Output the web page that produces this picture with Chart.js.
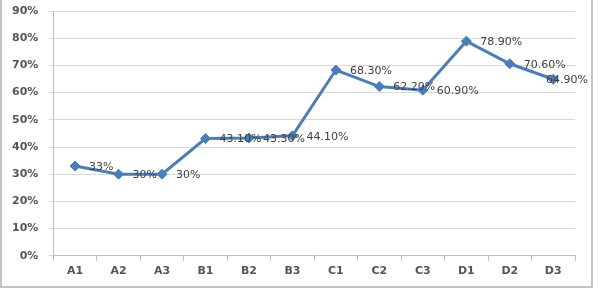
<!DOCTYPE html>
<html>
<head>
<meta charset="utf-8">
<script src="https://cdn.jsdelivr.net/npm/chart.js@4/dist/chart.umd.min.js"></script>
<style>
  html, body { margin: 0; padding: 0; background: #fff; }
  #wrap { width: 599px; height: 290px; position: relative; }
</style>
</head>
<body>
<div id="wrap"><canvas id="lineChart" width="599" height="290"></canvas></div>
<script>
const categories = ['A1', 'A2', 'A3', 'B1', 'B2', 'B3', 'C1', 'C2', 'C3', 'D1', 'D2', 'D3'];
const values = [33, 30, 30, 43.1, 43.3, 44.1, 68.3, 62.2, 60.9, 78.9, 70.6, 64.9];
const valueLabels = ['33%', '30%', '30%', '43.10%', '43.30%', '44.10%', '68.30%', '62.20%', '60.90%', '78.90%', '70.60%', '64.90%'];
const yTicks = [0, 10, 20, 30, 40, 50, 60, 70, 80, 90];

// draws the value text just right of each point, kept inside the frame
const pointLabels = {
    id: 'pointLabels',
    afterDatasetsDraw(chart) {
        const ctx = chart.ctx;
        const meta = chart.getDatasetMeta(0);
        ctx.save();
        ctx.font = '11px "DejaVu Sans"';
        ctx.fillStyle = '#404040';
        ctx.textAlign = 'left';
        ctx.textBaseline = 'middle';
        meta.data.forEach((pt, i) => {
            const w = ctx.measureText(valueLabels[i]).width;
            const x = Math.min(pt.x + 14, 588 - w);
            ctx.fillText(valueLabels[i], x, pt.y + 1);
        });
        ctx.restore();
    }
};

// grey frame round the chart
const frame = {
    id: 'frame',
    beforeDraw(chart) {
        const ctx = chart.ctx;
        ctx.save();
        ctx.strokeStyle = '#c4c4c4';
        ctx.lineWidth = 2;
        ctx.beginPath();
        ctx.moveTo(1, 0);
        ctx.lineTo(1, 287);
        ctx.lineTo(592, 287);
        ctx.lineTo(592, 0);
        ctx.stroke();
        ctx.restore();
    }
};

const ctx = document.getElementById('lineChart').getContext('2d');
const lineChart = new Chart(ctx, {
    type: 'line',
    data: {
        labels: categories,
        datasets: [{
            data: values,
            borderColor: '#4a7ebb',
            backgroundColor: '#4a7ebb',
            borderWidth: 3,
            tension: 0,
            pointStyle: 'rectRot',
            pointRadius: 5,
            pointBorderWidth: 1,
            fill: false
        }]
    },
    options: {
        responsive: false,
        animation: false,
        layout: { padding: { left: 2, right: 24, top: 11, bottom: 8 } },
        plugins: {
            legend: { display: false },
            tooltip: { enabled: false }
        },
        scales: {
            x: {
                offset: true,
                grid: {
                    offset: true,
                    drawOnChartArea: false,
                    color: '#bfbfbf',
                    tickLength: 5
                },
                border: { color: '#bfbfbf' },
                ticks: {
                    color: '#555',
                    font: { family: 'DejaVu Sans', size: 11, weight: 'bold' },
                    padding: 4
                }
            },
            y: {
                min: 0,
                max: 90,
                afterBuildTicks(axis) {
                    axis.ticks = yTicks.map(v => ({ value: v }));
                },
                afterFit(axis) {
                    axis.paddingTop = 0;
                },
                grid: {
                    color: '#d9d9d9',
                    tickLength: 5
                },
                border: { color: '#bfbfbf' },
                ticks: {
                    color: '#555',
                    font: { family: 'DejaVu Sans', size: 11, weight: 'bold' },
                    padding: 10,
                    callback: v => v + '%'
                }
            }
        }
    },
    plugins: [frame, pointLabels]
});
</script>
</body>
</html>
